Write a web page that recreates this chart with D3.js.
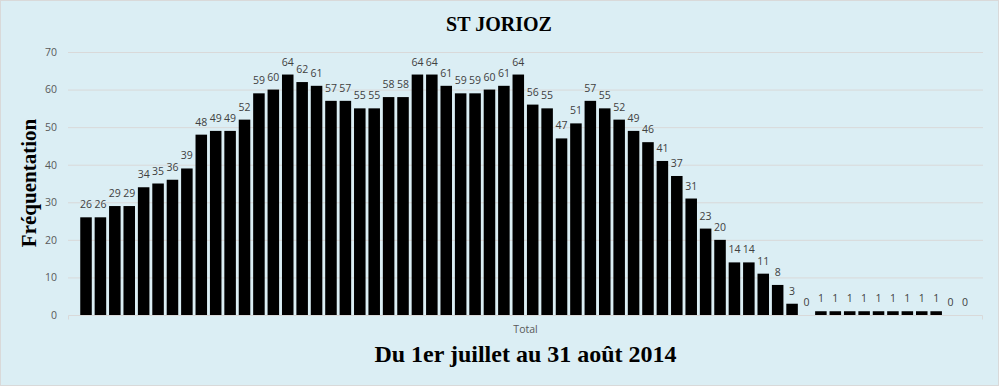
<!DOCTYPE html>
<html>
<head>
<meta charset="utf-8">
<title>ST JORIOZ</title>
<style>
  body { margin: 0; background: #fff; }
  svg { display: block; }
</style>
</head>
<body>
<script src="https://d3js.org/d3.v7.min.js"></script>
<script>
    // frequentation journaliere, 1er juillet -> 31 aout 2014
    var frequentation = [26, 26, 29, 29, 34, 35, 36, 39, 48, 49, 49, 52, 59, 60, 64, 62,
        61, 57, 57, 55, 55, 58, 58, 64, 64, 61, 59, 59, 60, 61, 64, 56,
        55, 47, 51, 57, 55, 52, 49, 46, 41, 37, 31, 23, 20, 14, 14, 11,
        8, 3, 0, 1, 1, 1, 1, 1, 1, 1, 1, 1, 0, 0];
    var categorie = ["Total"];
    var yTicks = [0, 10, 20, 30, 40, 50, 60, 70];
    var titre = "ST JORIOZ";
    var titreX = "Du 1er juillet au 31 août 2014";
    var titreY = "Fréquentation";

    var W = 999, H = 386;
    var plot = {left: 68, right: 983, top: 52, bottom: 315};

    var svg = d3.select("body").append("svg")
        .attr("width", W)
        .attr("height", H);

    svg.append("rect")
        .attr("x", 0.5).attr("y", 0.5)
        .attr("width", W - 1).attr("height", H - 1)
        .attr("fill", "#dbeef4")
        .attr("stroke", "#d9d9d9");

    var y = d3.scaleLinear().domain([0, 70]).range([plot.bottom, plot.top]);
    var xCat = d3.scaleBand().domain(categorie).range([plot.left, plot.right]);
    var x = d3.scaleBand()
        .domain(d3.range(frequentation.length))
        .range([plot.left, plot.right])
        .paddingInner(0.2)
        .paddingOuter(0.85);

    // grille
    svg.append("g")
        .selectAll("line")
        .data(yTicks.slice(1))
        .join("line")
        .attr("x1", plot.left).attr("x2", plot.right)
        .attr("y1", d => y(d) + 0.5).attr("y2", d => y(d) + 0.5)
        .attr("stroke", "#d9d9d9");

    // axe Y
    var yAxis = svg.append("g")
        .attr("transform", `translate(${plot.left - 11},0)`)
        .call(d3.axisLeft(y).tickValues(yTicks).tickSize(0).tickPadding(0));
    yAxis.select(".domain").remove();
    yAxis.selectAll("text")
        .attr("fill", "#595959")
        .style("font-family", "'Open Sans', sans-serif")
        .style("font-size", "10.5px");

    // axe X
    var xAxis = svg.append("g")
        .attr("transform", `translate(0,${plot.bottom + 0.5})`)
        .call(d3.axisBottom(xCat).tickSize(0).tickPadding(10));
    xAxis.select(".domain").attr("stroke", "#d9d9d9")
        .attr("d", `M${plot.left + 0.5},4V0H${plot.right - 0.5}V4`);
    xAxis.selectAll("text")
        .attr("fill", "#595959")
        .style("font-family", "'Open Sans', sans-serif")
        .style("font-size", "10.5px");

    // barres
    svg.append("g")
        .selectAll("rect")
        .data(frequentation)
        .join("rect")
        .attr("x", (d, i) => x(i))
        .attr("width", x.bandwidth())
        .attr("y", d => y(d))
        .attr("height", d => y(0) - y(d))
        .attr("fill", "#000");

    // etiquettes
    svg.append("g")
        .selectAll("text")
        .data(frequentation)
        .join("text")
        .attr("x", (d, i) => x(i) + x.bandwidth() / 2)
        .attr("y", d => y(d) - 9)
        .attr("text-anchor", "middle")
        .attr("fill", "#404040")
        .style("font-family", "'Open Sans', sans-serif")
        .style("font-size", "10.5px")
        .text(d => d);

    // titres
    svg.append("text")
        .attr("x", 499).attr("y", 31)
        .attr("text-anchor", "middle")
        .style("font-family", "'Liberation Serif', serif")
        .style("font-weight", "bold")
        .style("font-size", "20px")
        .text(titre);

    svg.append("text")
        .attr("x", 525.5).attr("y", 362)
        .attr("text-anchor", "middle")
        .style("font-family", "'Liberation Serif', serif")
        .style("font-weight", "bold")
        .style("font-size", "24px")
        .text(titreX);

    svg.append("text")
        .attr("transform", "translate(36,183) rotate(-90)")
        .attr("text-anchor", "middle")
        .style("font-family", "'Liberation Serif', serif")
        .style("font-weight", "bold")
        .style("font-size", "21px")
        .text(titreY);
</script>
</body>
</html>
